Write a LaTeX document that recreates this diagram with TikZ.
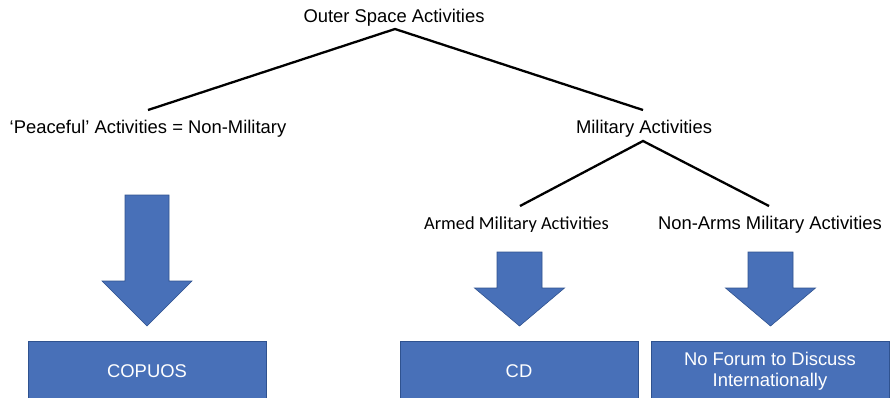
\documentclass[tikz,border=0pt]{standalone}
\usepackage{fontspec}
\setmainfont{Liberation Sans}
\newfontfamily\calibrifont{Carlito}
\definecolor{boxblue}{HTML}{4870B8}
\definecolor{boxedge}{HTML}{2F528F}
\begin{document}
\begin{tikzpicture}[x=1pt,y=-1pt,
  lbl/.style={font=\fontsize{18.4}{21}\selectfont, inner sep=0pt, anchor=base},
  treeline/.style={line width=2.3pt, black},
  bigarrow/.style={fill=boxblue, draw=boxedge, line width=0.6pt, line join=miter},
  outbox/.style={fill=boxblue, draw=boxedge, line width=0.8pt, minimum width=238pt,
    minimum height=61pt, inner sep=0pt, text=white, align=center,
    font=\fontsize{18.4}{21}\selectfont}]
\useasboundingbox (0,0) rectangle (890,397);
\clip (0,0) rectangle (890,397);

% text labels
\node[lbl] (top) at (394,22) {Outer Space Activities};
\node[lbl] (peace) at (148,133) {‘Peaceful’ Activities = Non-Military};
\node[lbl] (mil) at (644,133) {Military Activities};
\node[lbl, font=\calibrifont\fontsize{18.4}{21}\selectfont] (armed) at (516.5,229) {Armed Military Activities};
\node[lbl] (nonarms) at (770,229) {Non-Arms Military Activities};

% connector end points
\coordinate (topfoot) at (395,29);
\coordinate (peacehead) at (148,110);
\coordinate (milhead) at (643,110);
\coordinate (milfoot) at (643,141);
\coordinate (armedhead) at (520,206);
\coordinate (nonarmshead) at (769,206);

\draw[treeline] (peacehead) -- (topfoot) -- (milhead);
\draw[treeline] (armedhead) -- (milfoot) -- (nonarmshead);

% block arrows
\draw[bigarrow] (125,195) -- (169,195) -- (169,281) -- (192,281) -- (147,326)
  -- (102,281) -- (125,281) -- cycle;
\draw[bigarrow] (497,252) -- (542,252) -- (542,288) -- (564.5,288) -- (519.5,326)
  -- (474.5,288) -- (497,288) -- cycle;
\draw[bigarrow] (748,252) -- (793,252) -- (793,288) -- (815.5,288) -- (770.5,326)
  -- (725.5,288) -- (748,288) -- cycle;

% output boxes
\node[outbox] (copuos) at (147,371.5) {COPUOS};
\node[outbox] (cd) at (519,371.5) {CD};
\node[outbox] (noforum) at (770,371.5) {No Forum to Discuss\\Internationally};
\end{tikzpicture}
\end{document}
